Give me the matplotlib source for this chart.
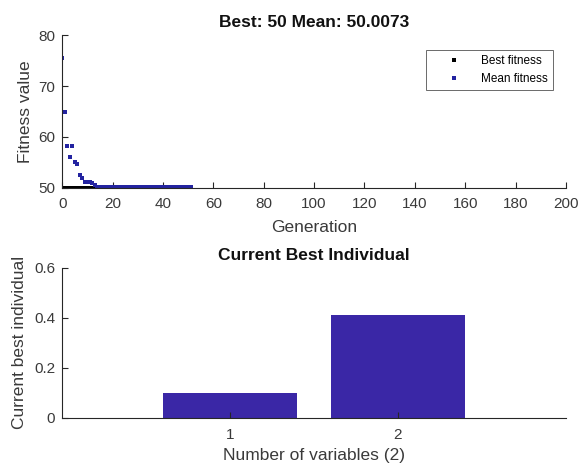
import numpy as np
import matplotlib
matplotlib.use("Agg")
import matplotlib.pyplot as plt

plt.rcParams['font.family'] = ['Liberation Sans', 'DejaVu Sans']

# Genetic algorithm progress per generation
generations = list(range(0, 52))
best_fitness = [50.0] * 52
mean_fitness = [75.5, 64.8, 58.1, 56.0, 58.1, 55.0, 54.7, 52.5, 51.9, 51.1,
                51.1, 51.0, 50.8, 50.4] + [50.0073] * 38

# Final best individual
variables = [1, 2]
best_individual = [0.1, 0.41]

best_val = 50
mean_val = 50.0073

text_c = '#3a3a3a'
title_c = '#111111'
fig = plt.figure(figsize=(5.81, 4.70), dpi=100)

ax1 = fig.add_axes([0.107, 0.601, 0.867, 0.324])
ax1.plot(generations, best_fitness, 's', color='black', markersize=2.4,
         markeredgewidth=0, label='Best fitness')
ax1.plot(generations, mean_fitness, 's', color='#2323a0', markersize=2.4,
         markeredgewidth=0, label='Mean fitness')
ax1.set_xlim(0, 200)
ax1.set_ylim(50, 80)
ax1.set_xticks(np.arange(0, 201, 20))
ax1.set_yticks([50, 60, 70, 80])
ax1.set_xlabel('Generation', fontsize=12.5, color=text_c, labelpad=6)
ax1.set_ylabel('Fitness value', fontsize=12.5, color=text_c, labelpad=4)
ax1.set_title(f'Best: {best_val} Mean: {mean_val}', fontsize=12.5, fontweight='bold',
              color=title_c, pad=6)
leg = ax1.legend(loc='upper right', fontsize=8.5, markerscale=1.0, frameon=True,
                 fancybox=False, edgecolor='#444444', handlelength=3.85,
                 handletextpad=0.35, borderpad=0.45, labelspacing=0.49,
                 bbox_to_anchor=(0.986, 0.942))
leg.get_frame().set_linewidth(0.7)

ax2 = fig.add_axes([0.107, 0.111, 0.867, 0.319])
ax2.bar(variables, best_individual, width=0.8, color='#3a27a6')
ax2.set_xlim(0, 3)
ax2.set_ylim(0, 0.6)
ax2.set_xticks(variables)
ax2.set_yticks([0, 0.2, 0.4, 0.6])
ax2.set_yticklabels(['0', '0.2', '0.4', '0.6'])
ax2.set_xlabel('Number of variables (2)', fontsize=12.5, color=text_c, labelpad=5)
ax2.set_ylabel('Current best individual', fontsize=12.5, color=text_c, labelpad=5)
ax2.set_title('Current Best Individual', fontsize=12.5, fontweight='bold',
              color=title_c, pad=6)

for ax in (ax1, ax2):
    for s in ('top', 'right'):
        ax.spines[s].set_visible(False)
    for s in ('left', 'bottom'):
        ax.spines[s].set_color('#262626')
        ax.spines[s].set_linewidth(0.8)
    ax.tick_params(direction='in', length=4, width=0.8, labelsize=11,
                   colors='#262626', labelcolor=text_c)
    ax.tick_params(axis='x', pad=7)
    ax.tick_params(axis='y', pad=5)

fig.savefig('out.png', dpi=100)
